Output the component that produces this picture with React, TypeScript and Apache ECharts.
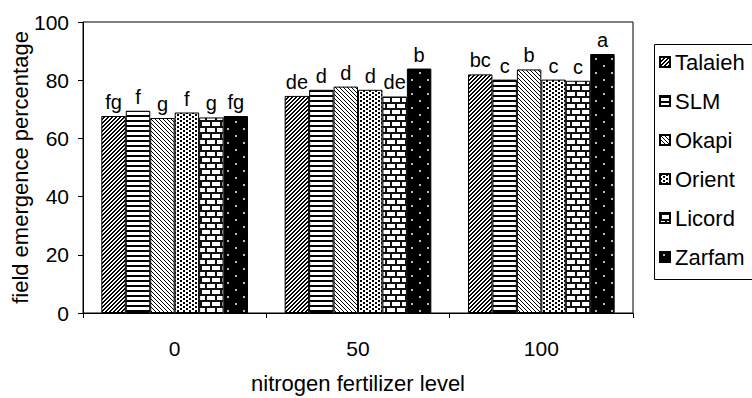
import React, { useEffect, useRef } from "react";
import * as echarts from "echarts";

const categories = ["0", "50", "100"];
const seriesNames = ["Talaieh", "SLM", "Okapi", "Orient", "Licord", "Zarfam"];
const talaieh = [67.7, 74.6, 82.0];
const slm = [69.5, 76.7, 80.2];
const okapi = [67.0, 77.8, 83.7];
const orient = [68.9, 76.7, 80.2];
const licord = [67.2, 74.4, 79.8];
const zarfam = [67.7, 84.0, 89.0];
const talaiehLetters = ["fg", "de", "bc"];
const slmLetters = ["f", "d", "c"];
const okapiLetters = ["g", "d", "b"];
const orientLetters = ["f", "d", "c"];
const licordLetters = ["g", "de", "c"];
const zarfamLetters = ["fg", "b", "a"];
const yTicks = [0, 20, 40, 60, 80, 100];

type Painter = (ctx: CanvasRenderingContext2D, w: number, h: number) => void;

function makePattern(w: number, h: number, bg: string, fg: string, paint: Painter) {
  const c = document.createElement("canvas");
  c.width = w;
  c.height = h;
  const ctx = c.getContext("2d") as CanvasRenderingContext2D;
  ctx.fillStyle = bg;
  ctx.fillRect(0, 0, w, h);
  ctx.fillStyle = fg;
  paint(ctx, w, h);
  return { image: c.toDataURL(), repeat: "repeat", imageWidth: w, imageHeight: h } as any;
}

function buildPatterns() {
  const diagUp = makePattern(4, 4, "#fff", "#000", (ctx, w, h) => {
    for (let x = 0; x < w; x++)
      for (let y = 0; y < h; y++) if ((x + y) % 4 < 2) ctx.fillRect(x, y, 1, 1);
  });
  const horiz = makePattern(4, 5, "#fff", "#000", (ctx, w) => {
    ctx.fillRect(0, 0, w, 2);
  });
  const diagDown = makePattern(4, 4, "#fff", "#000", (ctx, w, h) => {
    for (let x = 0; x < w; x++)
      for (let y = 0; y < h; y++) if ((x - y + 8) % 4 === 0) ctx.fillRect(x, y, 1, 1);
  });
  const dots = makePattern(6, 4, "#fff", "#000", (ctx) => {
    ctx.fillRect(0, 0, 2, 2);
    ctx.fillRect(3, 2, 2, 2);
  });
  const brick = makePattern(10, 12, "#fff", "#111", (ctx) => {
    ctx.fillRect(0, 0, 10, 2);
    ctx.fillRect(0, 2, 2, 4);
    ctx.fillRect(0, 6, 10, 2);
    ctx.fillRect(5, 8, 2, 4);
  });
  const darkDots = makePattern(16, 14, "#000", "#bbb", (ctx) => {
    ctx.fillRect(3, 2, 2, 2);
    ctx.fillRect(11, 9, 2, 2);
  });
  return [diagUp, horiz, diagDown, dots, brick, darkDots];
}

export default function App() {
  const ref = useRef<HTMLDivElement>(null);
  useEffect(() => {
    if (!ref.current) return;
    const chart = echarts.init(ref.current, null, { renderer: "svg" });
    const patterns = buildPatterns();
    const values = [talaieh, slm, okapi, orient, licord, zarfam];
    const letters = [talaiehLetters, slmLetters, okapiLetters, orientLetters, licordLetters, zarfamLetters];
    const font = "Liberation Sans";
    chart.setOption({
      animation: false,
      backgroundColor: "#fff",
      grid: {
        left: 83,
        right: 119,
        top: 22,
        bottom: 85,
        containLabel: false,
        outerBoundsMode: "none",
        show: true,
        borderColor: "#000",
        borderWidth: 1,
        backgroundColor: "transparent",
      },
      graphic: [
        {
          type: "rect",
          left: 652,
          top: 42,
          shape: { width: 160, height: 235 },
          style: { fill: "none", stroke: "#000", lineWidth: 1 },
          silent: true,
          z: 0,
        },
      ],
      legend: {
        orient: "vertical",
        left: 652,
        top: 42,
        padding: [9, 10, 9, 7],
        borderWidth: 0,
        itemWidth: 10,
        itemHeight: 10,
        itemGap: 17,
        icon: "rect",
        selectedMode: false,
        textStyle: { fontFamily: font, fontSize: 22, color: "#000", lineHeight: 22 },
        data: seriesNames,
      },
      xAxis: {
        type: "category",
        data: categories,
        name: "nitrogen fertilizer level",
        nameLocation: "middle",
        nameGap: 59,
        nameMoveOverlap: false,
        nameTextStyle: { fontFamily: font, fontSize: 22, color: "#000" },
        axisLine: { lineStyle: { color: "#000", width: 1 } },
        axisTick: { show: true, length: 5, lineStyle: { color: "#000" } },
        axisLabel: { fontFamily: font, fontSize: 21, color: "#000", margin: 25 },
        splitLine: { show: false },
      },
      yAxis: {
        type: "value",
        min: yTicks[0],
        max: yTicks[yTicks.length - 1],
        interval: 20,
        name: "field emergence percentage",
        nameLocation: "middle",
        nameGap: 52,
        nameMoveOverlap: false,
        nameTextStyle: { fontFamily: font, fontSize: 22, color: "#000" },
        axisLine: { show: true, lineStyle: { color: "#000", width: 1 } },
        axisTick: { show: true, length: 5, lineStyle: { color: "#000" } },
        axisLabel: { fontFamily: font, fontSize: 21, color: "#000", margin: 14 },
        splitLine: { show: false },
      },
      series: seriesNames.map((name, i) => ({
        name,
        type: "bar",
        data: values[i],
        barGap: "0%",
        barCategoryGap: "20%",
        itemStyle: { color: patterns[i], borderColor: "#000", borderWidth: 1 },
        label: {
          show: true,
          position: "top",
          distance: 4,
          fontFamily: font,
          fontSize: 20,
          color: "#000",
          formatter: (p: any) => letters[i][p.dataIndex],
        },
      })),
    });
    return () => chart.dispose();
  }, []);
  return (
    <div
      ref={ref}
      style={{ position: "fixed", left: 0, top: 0, width: 752, height: 398, background: "#fff" }}
    />
  );
}
